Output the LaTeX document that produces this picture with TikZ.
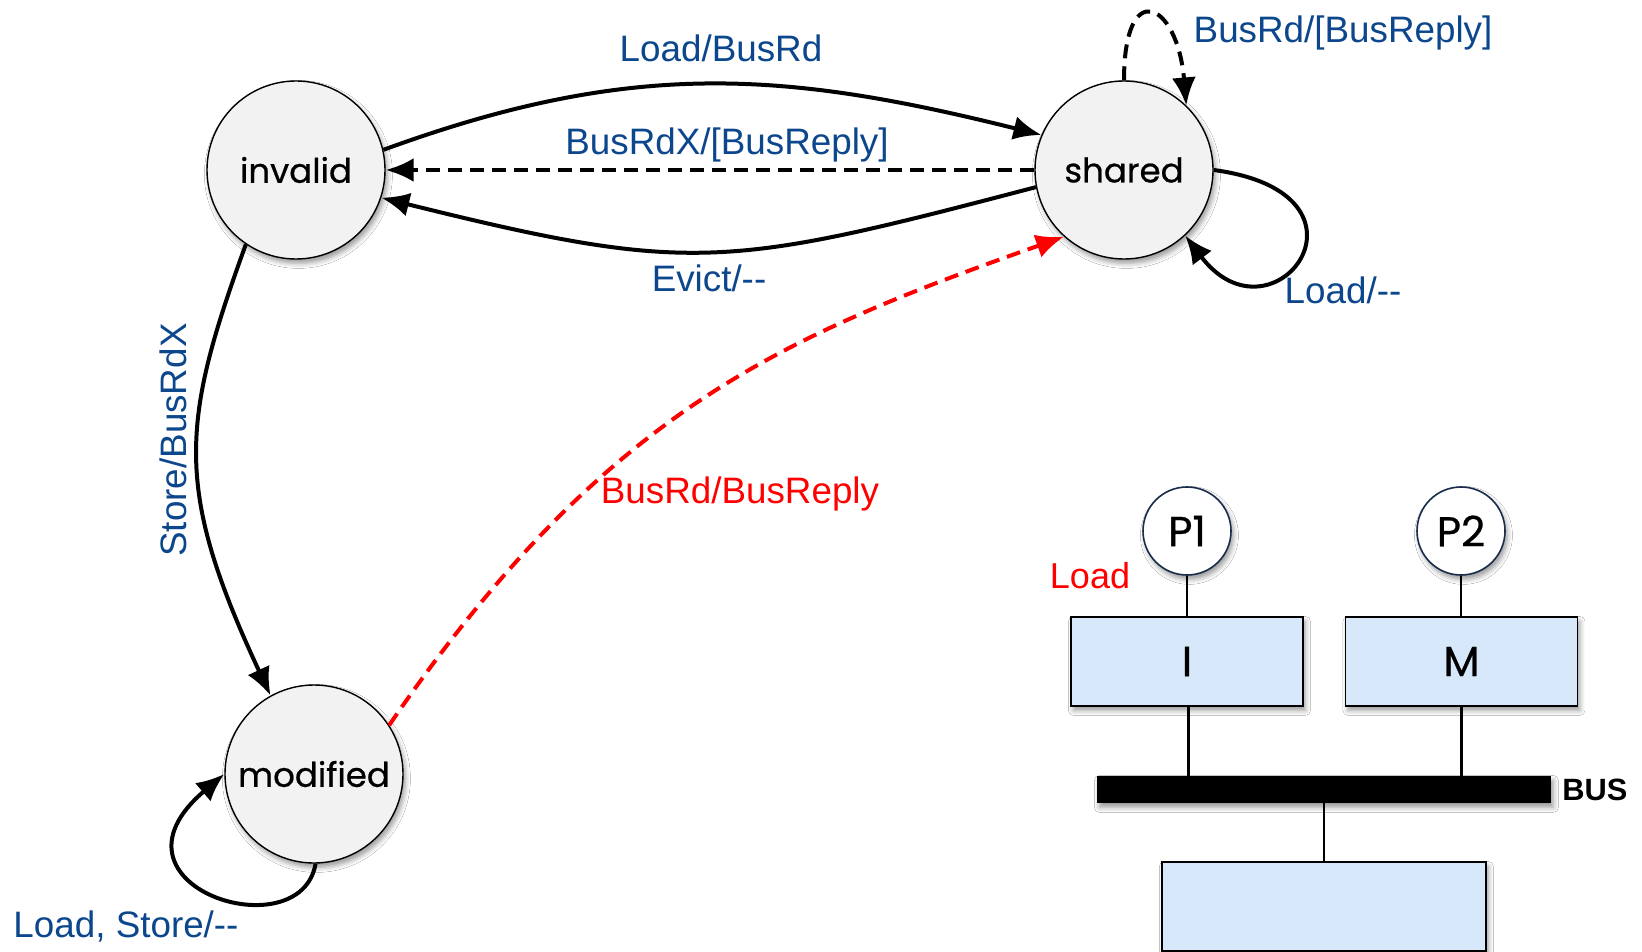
\documentclass[tikz,border=0pt]{standalone}
\usepackage{fontspec}
\setmainfont{Liberation Sans}
\newfontfamily\statefont[FakeBold=0.6]{Poppins}
\usetikzlibrary{arrows.meta,shadows.blur}
\definecolor{lblue}{RGB}{12,70,140}
\definecolor{stfill}{RGB}{242,242,242}
\definecolor{cachefill}{RGB}{214,232,250}
\definecolor{pborder}{RGB}{25,45,75}
\begin{document}
\begin{tikzpicture}[x=0.5pt,y=0.5pt,
  softshadow/.style={blur shadow={shadow xshift=1.2pt, shadow yshift=-2.2pt, shadow blur radius=2.5pt, shadow opacity=40}},
  state/.style={circle, draw=black, line width=0.7pt, fill=stfill, minimum size=89pt, inner sep=0pt,
    font=\statefont\fontsize{17}{20}\selectfont, softshadow},
  trans/.style={line width=2pt, -{Latex[length=14pt,width=12pt]}},
  dashedtrans/.style={trans, dash pattern=on 7pt off 4pt},
  lbl/.style={text=lblue, font=\fontsize{18.4}{22}\selectfont, anchor=base, inner sep=0pt},
  proc/.style={circle, draw=pborder, line width=0.8pt, fill=white, minimum size=44pt, inner sep=0pt,
    font=\statefont\fontsize{21}{24}\selectfont, softshadow},
  cache/.style={rectangle, draw=black, line width=0.8pt, fill=cachefill, inner sep=0pt,
    minimum width=116pt, minimum height=44.5pt, font=\statefont\fontsize{21}{24}\selectfont, softshadow},
  wire/.style={line width=1.4pt}
]
\path[use as bounding box, fill=white] (0,0) rectangle (1642,-952);

% states
\node[state] (inv) at (296,-170) {invalid};
\node[state] (sh) at (1124,-170) {shared};
\node[state] (mod) at (314,-774) {modified};

% transitions
\draw[trans] (inv.13) .. controls +(249,91) and +(-257,64) .. (sh.157);
\draw[dashedtrans] (sh.180) -- (inv.0);
\draw[trans] (sh.191) .. controls +(-309,-81) and +(310,-77) .. (inv.-18);
\draw[trans] (inv.236) .. controls +(-65,-179) and +(-97,208) .. (mod.119);
\draw[dashedtrans, draw=red] (mod.33) .. controls +(215,314) and +(-283,-100) .. (sh.228);
\draw[dashedtrans] (sh.90) .. controls +(0,104) and +(-9,104) .. (sh.46);
\draw[trans] (sh.0) .. controls +(178,-24) and +(88,-116) .. (sh.-47);
\draw[trans] (mod.271) .. controls +(-15,-88) and +(-132,-112) .. (mod.180);

% labels
\node[lbl] (lLoadBusRd) at (721,-62) {Load/BusRd};
\node[lbl] (lBusRdX) at (727,-155) {BusRdX/[BusReply]};
\node[lbl] (lEvict) at (709,-292) {Evict/{-}{-}};
\node[lbl, text=red] (lRed) at (740,-503) {BusRd/BusReply};
\node[lbl, rotate=90] (lStore) at (186,-440) {Store/BusRdX};
\node[lbl] (lTop) at (1343,-43) {BusRd/[BusReply]};
\node[lbl] (lLoadS) at (1343,-303) {Load/{-}{-}};
\node[lbl] (lLoadM) at (126,-937) {Load, Store/{-}{-}};

% system picture
\node[proc] (p1) at (1187,-531) {P1};
\node[proc] (p2) at (1461,-531) {P2};
\node[cache] (cI) at (1187,-661.5) {I};
\node[cache] (cM) at (1461.5,-661.5) {M};
\node[rectangle, fill=black, minimum width=227pt, minimum height=13.5pt, inner sep=0pt, softshadow] (bus) at (1324,-789.5) {};
\node[rectangle, draw=black, line width=0.8pt, fill=cachefill, minimum width=162pt, minimum height=44.5pt, inner sep=0pt, softshadow] (mem) at (1324,-906.5) {};
\draw[wire] (p1.south) -- (cI.north);
\draw[wire] (p2.south) -- (p2.south |- cM.north);
\draw[wire] ([xshift=0.8pt]cI.south) -- ([xshift=0.8pt]cI.south |- bus.north);
\draw[wire] (cM.south) -- (cM.south |- bus.north);
\draw[wire] (bus.south) -- (mem.north);
\node[anchor=base west, inner sep=0pt, font=\bfseries\fontsize{15.4}{18}\selectfont] (lBus) at (1562,-800) {BUS};
\node[anchor=base, inner sep=0pt, text=red, font=\fontsize{18}{22}\selectfont] (lLoadRed) at (1090,-588) {Load};
\end{tikzpicture}
\end{document}
